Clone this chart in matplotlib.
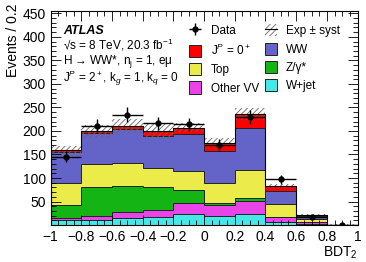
import matplotlib
matplotlib.use("Agg")
import matplotlib.pyplot as plt
import numpy as np
from matplotlib.patches import Patch
from matplotlib.lines import Line2D
from matplotlib.ticker import MultipleLocator

plt.rcParams["font.family"] = ["Liberation Sans", "DejaVu Sans"]
plt.rcParams["mathtext.fontset"] = "custom"
plt.rcParams["mathtext.rm"] = "Liberation Sans"
plt.rcParams["mathtext.it"] = "Liberation Sans:italic"
plt.rcParams["hatch.linewidth"] = 0.6

# bin edges of BDT_2
edges = np.round(np.arange(-1.0, 1.01, 0.2), 2)

# stacked components, bottom to top
wjet = [10, 11, 14, 18, 23, 19, 23, 7, 2, 0.2]
other_vv = [6, 8, 14, 15, 23, 23, 29, 10, 4, 0.1]
zgamma = [26, 62, 55, 48, 28, 4, 6, 1, 0.5, 0.0]
top = [48, 48, 48, 41, 41, 43, 60, 26, 5.5, 0.2]
ww = [66, 66, 73, 67, 78, 68, 89, 28, 7, 0.3]
sig_0p = [3, 4, 6, 11, 14, 18, 29, 11, 2, 0.2]
syst = [8, 13, 15, 16, 10, 10, 13, 4, 2, 0.5]

data = [145, 210, 235, 216, 214, 170, 230, 97, 17, 1]
data_err = [12, 14.5, 15.3, 14.7, 14.6, 13, 15.2, 9.8, 4.1, 1]

layers = [
    ("W+jet", wjet, "#44e8e8"),
    ("Other VV", other_vv, "#e844e8"),
    ("Z/\u03b3*", zgamma, "#14b414"),
    ("Top", top, "#ebeb4a"),
    ("WW", ww, "#6464c8"),
    ("J$^P$ = 0$^+$", sig_0p, "#ff0000"),
]

fig = plt.figure(figsize=(3.66, 2.62), dpi=100)
ax = fig.add_axes([0.138, 0.141, 0.839, 0.817])

bottom = np.zeros(len(edges) - 1)
handles = {}
for name, vals, col in layers:
    vals = np.asarray(vals, dtype=float)
    ax.stairs(bottom + vals, edges, baseline=bottom, fill=True, color=col, zorder=1)
    ax.stairs(bottom + vals, edges, baseline=0, color="#222222", lw=0.7, zorder=1.2)
    handles[name] = Patch(facecolor=col, edgecolor="#222222", lw=0.7)
    bottom = bottom + vals
total = bottom

centers = 0.5 * (edges[:-1] + edges[1:])
syst = np.asarray(syst)
ax.bar(centers, 2 * syst, bottom=total - syst, width=0.2, fill=False,
       hatch="//////", edgecolor="#666666", lw=0, zorder=1.5)
ax.stairs(total, edges, baseline=0, color="black", lw=0.8, zorder=1.6)

ax.errorbar(centers, data, yerr=data_err, xerr=0.1, fmt="o", color="black",
            ms=3.5, lw=1.0, capsize=0, zorder=3)

ax.set_xlim(-1, 1)
ax.set_ylim(0, 455)
ax.xaxis.set_major_locator(MultipleLocator(0.2))
ax.xaxis.set_minor_locator(MultipleLocator(0.05))
ax.yaxis.set_major_locator(MultipleLocator(50))
ax.yaxis.set_minor_locator(MultipleLocator(10))
ax.tick_params(which="both", direction="in", top=True, right=True, labelsize=10,
               width=0.6)
ax.tick_params(which="major", length=7)
ax.tick_params(which="minor", length=3.5)
ax.set_xticks(np.round(np.arange(-1, 1.01, 0.2), 1))
ax.set_xticklabels(["\u22121", "\u22120.8", "\u22120.6", "\u22120.4", "\u22120.2",
                    "0", "0.2", "0.4", "0.6", "0.8", "1"])
ax.set_yticks(np.arange(50, 451, 50))
for s in ax.spines.values():
    s.set_linewidth(0.8)

ax.set_ylabel("Events / 0.2", fontsize=10, loc="top")
ax.yaxis.set_label_coords(-0.1, 1.035)
ax.set_xlabel("BDT$_2$", fontsize=10, loc="right")
ax.xaxis.set_label_coords(1.0, -0.09)

tx = 0.04
ax.text(tx, 0.905, "ATLAS", transform=ax.transAxes, fontsize=9,
        fontweight="bold", fontstyle="italic", va="center")
ax.text(tx, 0.84, "\u221as = 8 TeV, 20.3 fb$^{-1}$", transform=ax.transAxes,
        fontsize=8.5, va="center")
ax.text(tx, 0.765, "H \u2192 WW*, n$_{\\mathrm{j}}$ = 1, e\u03bc", transform=ax.transAxes,
        fontsize=8.5, va="center")
ax.text(tx, 0.685, "J$^P$ = 2$^+$, k$_g$ = 1, k$_q$ = 0", transform=ax.transAxes,
        fontsize=8.5, va="center")

data_handle = ax.errorbar([], [], yerr=[], xerr=[], fmt="o", color="black",
                          ms=3.5, lw=1.0, capsize=0)
exp_handle = (Patch(facecolor="none", hatch="//////", edgecolor="#666666", lw=0),
              Line2D([], [], color="black", lw=0.8))
leg_handles = [data_handle, handles["J$^P$ = 0$^+$"], handles["Top"],
               handles["Other VV"], exp_handle, handles["WW"],
               handles["Z/\u03b3*"], handles["W+jet"]]
leg_labels = ["Data", "J$^P$ = 0$^+$", "Top", "Other VV",
              "Exp \u00b1 syst", "WW", "Z/\u03b3*", "W+jet"]
ax.legend(leg_handles, leg_labels, ncol=2, loc="upper left",
          bbox_to_anchor=(0.437, 0.96), frameon=False, fontsize=8.5,
          handlelength=1.0, handleheight=1.2, handletextpad=0.8,
          columnspacing=0.5, labelspacing=0.45, borderaxespad=0)

fig.savefig("out.png", dpi=100)
